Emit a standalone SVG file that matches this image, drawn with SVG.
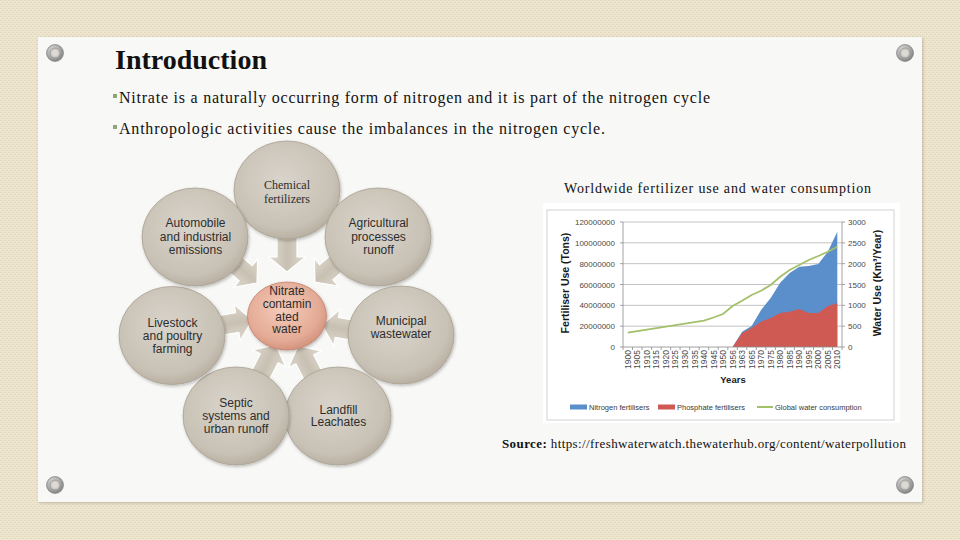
<svg xmlns="http://www.w3.org/2000/svg" xmlns:xlink="http://www.w3.org/1999/xlink" width="960" height="540" viewBox="0 0 960 540">
<style>
.ser{font-family:"Liberation Serif","Times New Roman",serif;fill:#111}
.nt{font-family:"Liberation Sans",Arial,sans-serif;font-size:12px;fill:#2d2d2d;text-anchor:middle}
.ntc{font-family:"Liberation Serif","Times New Roman",serif;font-size:12px;fill:#2d2d2d;text-anchor:middle}
.outer{fill:url(#gOuter);stroke:#aaa191;stroke-width:0.8;filter:url(#sh)}
.arrow{fill:url(#gArrow);stroke:#ffffff;stroke-width:1.2}
.ax{font-family:"Liberation Sans",Arial,sans-serif;font-size:8px;fill:#4a4a4a}
.xl{font-family:"Liberation Sans",Arial,sans-serif;font-size:8.5px;fill:#4a4a4a;text-anchor:end}
.lg{font-family:"Liberation Sans",Arial,sans-serif;font-size:7.5px;fill:#3a3a3a}
.ttl{font-family:"Liberation Sans",Arial,sans-serif;font-size:10.5px;font-weight:bold;fill:#1a1a1a;text-anchor:middle}
.grid{stroke:#b4b4b4;stroke-width:0.8}
</style>
<defs>
<pattern id="canvas" width="4" height="4" patternUnits="userSpaceOnUse">
<rect width="4" height="4" fill="#ece4cd"/>
<rect x="0" y="0" width="2" height="1" fill="#e2d9bf"/>
<rect x="2" y="2" width="2" height="1" fill="#e2d9bf"/>
<rect x="1" y="1" width="1" height="1" fill="#f2ecda"/>
<rect x="3" y="3" width="1" height="1" fill="#f2ecda"/>
</pattern>
<radialGradient id="gOuter" cx="0.45" cy="0.4" r="0.65">
<stop offset="0" stop-color="#d9d4cb"/>
<stop offset="0.75" stop-color="#c8c1b5"/>
<stop offset="1" stop-color="#b3aa9b"/>
</radialGradient>
<radialGradient id="gCenter" cx="0.45" cy="0.4" r="0.65">
<stop offset="0" stop-color="#f4ccba"/>
<stop offset="0.7" stop-color="#e4ab96"/>
<stop offset="1" stop-color="#cf8d77"/>
</radialGradient>
<linearGradient id="gArrow" x1="0" y1="0" x2="1" y2="0">
<stop offset="0" stop-color="#e0dbd1"/>
<stop offset="0.5" stop-color="#c8c0b2"/>
<stop offset="1" stop-color="#ddd7cc"/>
</linearGradient>
<radialGradient id="gScrew" cx="0.4" cy="0.35" r="0.7">
<stop offset="0" stop-color="#e6e6e6"/>
<stop offset="1" stop-color="#7c7c7c"/>
</radialGradient>
<filter id="sh" x="-20%" y="-20%" width="140%" height="140%">
<feDropShadow dx="1" dy="1.5" stdDeviation="1.5" flood-color="#000" flood-opacity="0.25"/>
</filter>
<filter id="psh" x="-5%" y="-5%" width="110%" height="110%">
<feDropShadow dx="1" dy="1" stdDeviation="1.5" flood-color="#000" flood-opacity="0.2"/>
</filter>
<polygon id="arr" points="-10,-45 10,-45 10,-15 18.5,-15 0,0 -18.5,-15 -10,-15"/>
<g id="screw">
<circle r="8.5" fill="url(#gScrew)" stroke="#777" stroke-width="0.6"/>
<circle r="5" fill="#cfcdc4" stroke="#9a9a9a" stroke-width="1"/>
<circle r="3" fill="#dcdad2"/>
</g>
</defs>

<rect width="960" height="540" fill="url(#canvas)"/>
<rect x="38" y="37" width="884" height="465" fill="#f8f8f7" filter="url(#psh)"/>

<use href="#screw" x="55" y="53"/>
<use href="#screw" x="905" y="53"/>
<use href="#screw" x="55" y="485"/>
<use href="#screw" x="905" y="485"/>

<text x="115" y="69" class="ser" font-size="28" font-weight="bold">Introduction</text>
<rect x="113" y="94" width="4" height="4" fill="#8da57a"/>
<text x="119" y="103" class="ser" font-size="16" textLength="591" lengthAdjust="spacing">Nitrate is a naturally occurring form of nitrogen and it is part of the nitrogen cycle</text>
<rect x="113" y="125" width="4" height="4" fill="#8da57a"/>
<text x="119" y="134" class="ser" font-size="16" textLength="486" lengthAdjust="spacing">Anthropologic activities cause the imbalances in the nitrogen cycle.</text>

<g id="connectors">
<use href="#arr" class="arrow" transform="translate(287,272) rotate(0)"/>
<use href="#arr" class="arrow" transform="translate(315,282) rotate(49)"/>
<use href="#arr" class="arrow" transform="translate(322,325) rotate(99.5)"/>
<use href="#arr" class="arrow" transform="translate(298,346) rotate(153)"/>
<use href="#arr" class="arrow" transform="translate(276,345) rotate(-153)"/>
<use href="#arr" class="arrow" transform="translate(252,320) rotate(-99.6)"/>
<use href="#arr" class="arrow" transform="translate(257,283) rotate(-49.3)"/>
</g>

<g id="node-chemical">
<ellipse cx="287" cy="190" rx="53" ry="49" class="outer"/>
<text class="ntc" x="287" y="189">Chemical</text>
<text class="ntc" x="287" y="202.5">fertilizers</text>
</g>
<g id="node-agricultural">
<ellipse cx="378" cy="237" rx="53" ry="49" class="outer"/>
<text class="nt" x="378.5" y="227">Agricultural</text>
<text class="nt" x="378.5" y="240.5">processes</text>
<text class="nt" x="378.5" y="253.5">runoff</text>
</g>
<g id="node-municipal">
<ellipse cx="401" cy="335" rx="53" ry="49" class="outer"/>
<text class="nt" x="401" y="325">Municipal</text>
<text class="nt" x="401" y="337.5">wastewater</text>
</g>
<g id="node-landfill">
<ellipse cx="338" cy="416" rx="53" ry="49" class="outer"/>
<text class="nt" x="338.5" y="413.5">Landfill</text>
<text class="nt" x="338.5" y="426">Leachates</text>
</g>
<g id="node-septic">
<ellipse cx="236" cy="416" rx="53" ry="49" class="outer"/>
<text class="nt" x="236" y="406.5">Septic</text>
<text class="nt" x="236" y="420">systems and</text>
<text class="nt" x="236" y="432.5">urban runoff</text>
</g>
<g id="node-livestock">
<ellipse cx="172" cy="335.5" rx="53" ry="49" class="outer"/>
<text class="nt" x="172.5" y="326.5">Livestock</text>
<text class="nt" x="172.5" y="340">and poultry</text>
<text class="nt" x="172.5" y="352.5">farming</text>
</g>
<g id="node-automobile">
<ellipse cx="195" cy="237" rx="53" ry="49" class="outer"/>
<text class="nt" x="195.5" y="227">Automobile</text>
<text class="nt" x="195.5" y="240.5">and industrial</text>
<text class="nt" x="195.5" y="253.5">emissions</text>
</g>
<g id="node-nitrate">
<ellipse cx="287" cy="316" rx="39.5" ry="34" fill="url(#gCenter)" stroke="#c2806b" stroke-width="0.8" filter="url(#sh)"/>
<text class="nt" x="287" y="295">Nitrate</text>
<text class="nt" x="287" y="308">contamin</text>
<text class="nt" x="287" y="320.5">ated</text>
<text class="nt" x="287" y="333">water</text>
</g>

<text x="564" y="192.5" class="ser" font-size="14" textLength="307" lengthAdjust="spacing">Worldwide fertilizer use and water consumption</text>

<g id="chart">
<rect x="543" y="203" width="357" height="220" fill="#ffffff"/>
<rect x="547" y="210" width="347" height="210" fill="#ffffff" stroke="#d2d2d2" stroke-width="1"/>
<g>
<line class="grid" x1="623" y1="222" x2="842" y2="222"/>
<line class="grid" x1="623" y1="242.83" x2="842" y2="242.83"/>
<line class="grid" x1="623" y1="263.67" x2="842" y2="263.67"/>
<line class="grid" x1="623" y1="284.5" x2="842" y2="284.5"/>
<line class="grid" x1="623" y1="305.33" x2="842" y2="305.33"/>
<line class="grid" x1="623" y1="326.17" x2="842" y2="326.17"/>
</g>
<polygon fill="#5b8fcb" points="732.6,347 742.1,331.7 751.6,326 761.1,310 770.7,298 780.2,282.7 789.7,273 799.2,266.7 808.8,266 818.3,264 827.8,251.7 837.3,231.7 837.3,347"/>
<polygon fill="#cf5a54" points="732.6,347 742.1,333 751.6,328 761.1,321.7 770.7,318 780.2,313 789.7,311.7 799.2,309 808.8,313 818.3,313 827.8,306 837.3,303.3 837.3,347"/>
<polyline fill="none" stroke="#a3c06a" stroke-width="1.8" points="627.8,332.7 637.3,331.2 646.8,329.7 656.4,328.2 665.9,326.7 675.4,325.2 684.9,323.7 694.5,322.2 704.0,320.7 713.5,317.5 723.0,314 732.6,306 742.1,300.7 751.6,295 761.1,290.7 770.7,285 780.2,276.7 789.7,270 799.2,265 808.8,260 818.3,256 827.8,251.7 837.3,246.7"/>
<g stroke="#8c8c8c" stroke-width="0.8">
<line x1="623" y1="222" x2="623" y2="347"/>
<line x1="842" y1="222" x2="842" y2="347"/>
<line x1="620" y1="347" x2="845" y2="347"/>
<path d="M620,222h3M620,242.83h3M620,263.67h3M620,284.5h3M620,305.33h3M620,326.17h3M842,222h3M842,242.83h3M842,263.67h3M842,284.5h3M842,305.33h3M842,326.17h3"/>
<path d="M623,347v3M632.5,347v3M642,347v3M651.6,347v3M661.1,347v3M670.6,347v3M680.1,347v3M689.7,347v3M699.2,347v3M708.7,347v3M718.2,347v3M727.8,347v3M737.3,347v3M746.8,347v3M756.3,347v3M765.9,347v3M775.4,347v3M784.9,347v3M794.4,347v3M804,347v3M813.5,347v3M823,347v3M832.5,347v3M842,347v3"/>
</g>
<g class="ax" text-anchor="end">
<text x="615" y="225">120000000</text>
<text x="615" y="245.8">100000000</text>
<text x="615" y="266.7">80000000</text>
<text x="615" y="287.5">60000000</text>
<text x="615" y="308.3">40000000</text>
<text x="615" y="329.2">20000000</text>
<text x="615" y="350">0</text>
</g>
<g class="ax">
<text x="848" y="225">3000</text>
<text x="848" y="245.8">2500</text>
<text x="848" y="266.7">2000</text>
<text x="848" y="287.5">1500</text>
<text x="848" y="308.3">1000</text>
<text x="848" y="329.2">500</text>
<text x="848" y="350">0</text>
</g>
<g class="xl">
<text transform="translate(630.8,350) rotate(-90)">1900</text>
<text transform="translate(640.3,350) rotate(-90)">1905</text>
<text transform="translate(649.8,350) rotate(-90)">1910</text>
<text transform="translate(659.4,350) rotate(-90)">1915</text>
<text transform="translate(668.9,350) rotate(-90)">1920</text>
<text transform="translate(678.4,350) rotate(-90)">1925</text>
<text transform="translate(687.9,350) rotate(-90)">1930</text>
<text transform="translate(697.5,350) rotate(-90)">1935</text>
<text transform="translate(707,350) rotate(-90)">1940</text>
<text transform="translate(716.5,350) rotate(-90)">1945</text>
<text transform="translate(726,350) rotate(-90)">1950</text>
<text transform="translate(735.6,350) rotate(-90)">1956</text>
<text transform="translate(745.1,350) rotate(-90)">1963</text>
<text transform="translate(754.6,350) rotate(-90)">1965</text>
<text transform="translate(764.1,350) rotate(-90)">1970</text>
<text transform="translate(773.7,350) rotate(-90)">1975</text>
<text transform="translate(783.2,350) rotate(-90)">1980</text>
<text transform="translate(792.7,350) rotate(-90)">1985</text>
<text transform="translate(802.2,350) rotate(-90)">1990</text>
<text transform="translate(811.8,350) rotate(-90)">1995</text>
<text transform="translate(821.3,350) rotate(-90)">2000</text>
<text transform="translate(830.8,350) rotate(-90)">2005</text>
<text transform="translate(840.3,350) rotate(-90)">2010</text>
</g>
<text class="ttl" transform="translate(569,283) rotate(-90)">Fertiliser Use (Tons)</text>
<text class="ttl" transform="translate(881,283) rotate(-90)">Water Use (Km³/Year)</text>
<text x="733" y="383" font-family="Liberation Sans, Arial, sans-serif" font-size="9.5" font-weight="bold" fill="#1a1a1a" text-anchor="middle">Years</text>
<rect x="570" y="404.5" width="17" height="5" fill="#5b8fcb"/>
<text class="lg" x="589" y="409.5">Nitrogen fertilisers</text>
<rect x="658" y="404.5" width="17" height="5" fill="#cf5a54"/>
<text class="lg" x="677" y="409.5">Phosphate fertilisers</text>
<line x1="757" y1="407" x2="773" y2="407" stroke="#a3c06a" stroke-width="2"/>
<text class="lg" x="775" y="409.5">Global water consumption</text>
</g>

<text x="502" y="447.5" class="ser" font-size="13" textLength="404" lengthAdjust="spacing"><tspan font-weight="bold">Source:</tspan> https://freshwaterwatch.thewaterhub.org/content/waterpollution</text>
</svg>
